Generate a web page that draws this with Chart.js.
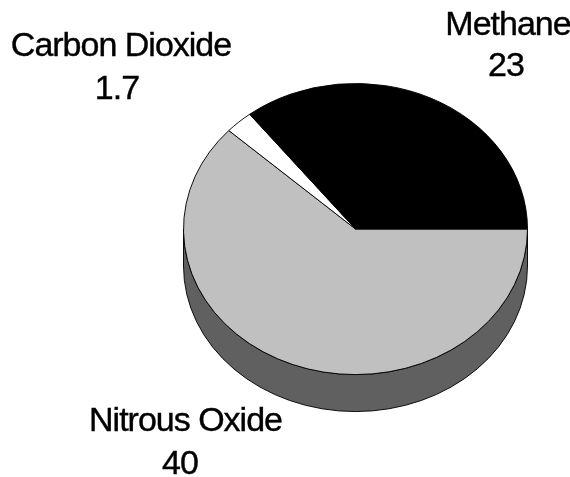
<!DOCTYPE html>
<html>
<head>
<meta charset="utf-8">
<script src="https://cdn.jsdelivr.net/npm/chart.js@4"></script>
<style>
  html, body { margin: 0; background: #fff; }
  canvas { display: block; }
</style>
</head>
<body>
<canvas id="gasChart" width="570" height="477"></canvas>
<script>
const gases = ['Nitrous Oxide', 'Carbon Dioxide', 'Methane'];
const values = [40, 1.7, 23];
const sliceColors = ['#c0c0c0', '#ffffff', '#000000'];
const valueLabels = ['40', '1.7', '23'];
// x/y of the name line and the value line for each gas
const nameX = [185.5, 121, 508];
const nameY = [422, 47, 26];
const valueX = [180, 117, 506];
const valueY = [465, 90, 67];

const squash = 146 / 172.5;  // tilt of the pie
const depth = 37;

// squeeze the round pie into an ellipse and draw the side wall under it
const tiltPlugin = {
  id: 'tilt',
  beforeDatasetsDraw(chart) {
    const ctx = chart.ctx;
    const arc = chart.getDatasetMeta(0).data[0];
    const cx = arc.x, cy = arc.y, r = arc.outerRadius;

    ctx.save();
    ctx.translate(0, cy);
    ctx.scale(1, squash);
    ctx.translate(0, -cy);

    // side wall
    ctx.beginPath();
    ctx.moveTo(cx - r, cy);
    ctx.arc(cx, cy, r, Math.PI, 0, true);
    ctx.lineTo(cx + r, cy + depth / squash);
    ctx.arc(cx, cy + depth / squash, r, 0, Math.PI, false);
    ctx.closePath();
    ctx.fillStyle = '#606060';
    ctx.fill();
    ctx.lineWidth = 1;
    ctx.strokeStyle = '#000';
    ctx.stroke();
  },
  afterDatasetsDraw(chart) {
    chart.ctx.restore();

    const ctx = chart.ctx;
    ctx.save();
    ctx.fillStyle = '#000';
    ctx.strokeStyle = '#000';
    ctx.lineWidth = 0.4;
    ctx.font = '34px "Liberation Sans"';
    ctx.letterSpacing = '-1px';
    ctx.textAlign = 'center';
    ctx.textBaseline = 'middle';
    gases.forEach(function (g, i) {
      ctx.fillText(g, nameX[i], nameY[i]);
      ctx.strokeText(g, nameX[i], nameY[i]);
      ctx.fillText(valueLabels[i], valueX[i], valueY[i]);
      ctx.strokeText(valueLabels[i], valueX[i], valueY[i]);
    });
    ctx.restore();
  }
};

const ctx = document.getElementById('gasChart').getContext('2d');
const gasChart = new Chart(ctx, {
  type: 'pie',
  data: {
    labels: gases,
    datasets: [{
      data: values,
      backgroundColor: sliceColors,
      borderColor: '#000',
      borderWidth: 1,
      borderAlign: 'center'
    }]
  },
  options: {
    responsive: false,
    animation: false,
    rotation: 90,
    layout: { padding: { left: 183, right: 42, top: 56.5, bottom: 75.5 } },
    plugins: {
      legend: { display: false },
      tooltip: { enabled: false }
    }
  },
  plugins: [tiltPlugin]
});
</script>
</body>
</html>
